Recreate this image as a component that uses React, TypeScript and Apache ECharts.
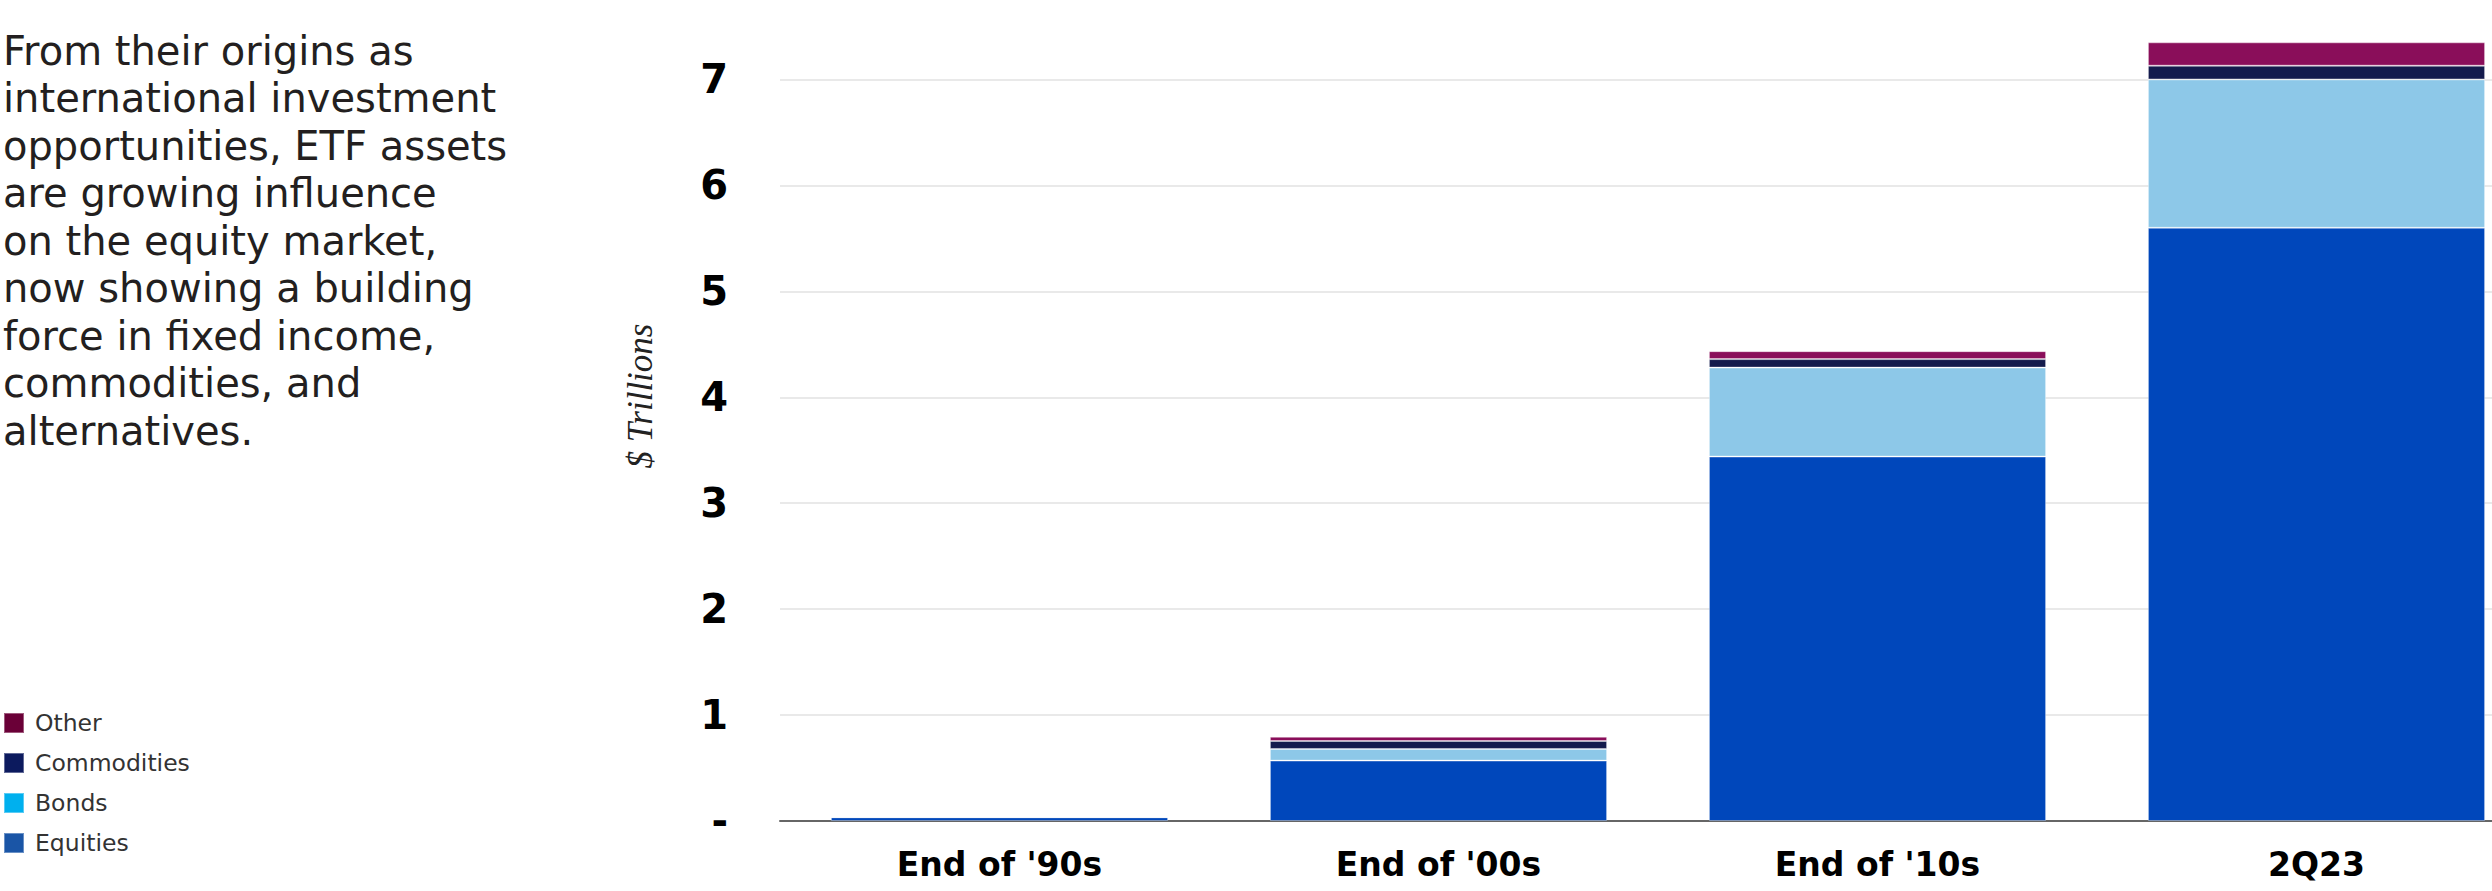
import React, { useEffect, useRef } from "react";
import * as echarts from "echarts";

const categories = ["End of '90s", "End of '00s", "End of '10s", "2Q23"];
const equities = [0.035, 0.57, 3.44, 5.6];
const bonds = [0, 0.11, 0.84, 1.4];
const commodities = [0, 0.075, 0.08, 0.13];
const other = [0, 0.04, 0.075, 0.22];

const seriesNames = ["Equities", "Bonds", "Commodities", "Other"];
const barColors = ["#0047BB", "#8DC8E8", "#141B4D", "#8A0E5A"];
const legendColors = ["#1A55A6", "#00B0EE", "#0C1A5E", "#6A0037"];
const legendOrder = ["Other", "Commodities", "Bonds", "Equities"];

const paragraph = [
  "From their origins as",
  "international investment",
  "opportunities, ETF assets",
  "are growing influence",
  "on the equity market,",
  "now showing a building",
  "force in fixed income,",
  "commodities, and",
  "alternatives.",
];

const yTicks = [0, 1, 2, 3, 4, 5, 6, 7];

export default function App() {
  const ref = useRef<HTMLDivElement>(null);
  useEffect(() => {
    if (!ref.current) return;
    const chart = echarts.init(ref.current, null, { renderer: "svg" });
    const values = [equities, bonds, commodities, other];
    chart.setOption({
      animation: false,
      backgroundColor: "#ffffff",
      grid: { left: 780, top: 0, width: 1756, height: 821, outerBoundsMode: "none", containLabel: false },
      xAxis: {
        type: "category",
        data: categories,
        axisLine: { show: true, lineStyle: { color: "#666666", width: 2 } },
        axisTick: { show: false },
        axisLabel: {
          color: "#000000",
          fontFamily: "DejaVu Sans",
          fontWeight: "bold",
          fontSize: 33,
          margin: 27,
        },
      },
      yAxis: {
        type: "value",
        min: 0,
        max: 7.75,
        interval: 1,
        axisLine: { show: false },
        axisTick: { show: false },
        splitLine: { show: true, showMaxLine: false, lineStyle: { color: "#e2e2e2", width: 1.5 } },
        axisLabel: {
          showMaxLabel: false,
          color: "#000000",
          fontFamily: "DejaVu Sans",
          fontWeight: "bold",
          fontSize: 40,
          margin: 52,
          formatter: (v: number) => (v === 0 ? "-" : yTicks.includes(v) ? String(v) : ""),
        },
      },
      legend: {
        orient: "vertical",
        left: 3,
        top: 711,
        padding: 0,
        itemWidth: 20,
        itemHeight: 20,
        itemGap: 16,
        icon: "rect",
        selectedMode: false,
        textStyle: {
          fontFamily: "DejaVu Sans",
          fontSize: 23.5,
          lineHeight: 20,
          color: "#333333",
          padding: [0, 0, 0, 6],
        },
        data: legendOrder.map((n) => ({
          name: n,
          itemStyle: { color: legendColors[seriesNames.indexOf(n)] },
        })),
      },
      series: seriesNames.map((name, i) => ({
        name,
        type: "bar",
        stack: "total",
        data: values[i],
        barCategoryGap: "23.2%",
        itemStyle: { color: barColors[i], borderColor: "rgba(255,255,255,0.35)", borderWidth: 1 },
      })),
      graphic: [
        {
          type: "text",
          left: 3,
          top: 27,
          style: {
            text: paragraph.join("\n"),
            font: "40px 'DejaVu Sans'",
            fill: "#231f20",
            lineHeight: 47.5,
          },
        },
        {
          type: "text",
          x: 640,
          y: 396,
          rotation: Math.PI / 2,
          style: {
            text: "$ Trillions",
            font: "italic 35px 'Liberation Serif'",
            fill: "#222222",
            align: "center",
            verticalAlign: "middle",
          },
        },
      ],
    });
    return () => chart.dispose();
  }, []);
  return (
    <div
      ref={ref}
      style={{ position: "fixed", left: 0, top: 0, width: 2492, height: 891 }}
    />
  );
}
